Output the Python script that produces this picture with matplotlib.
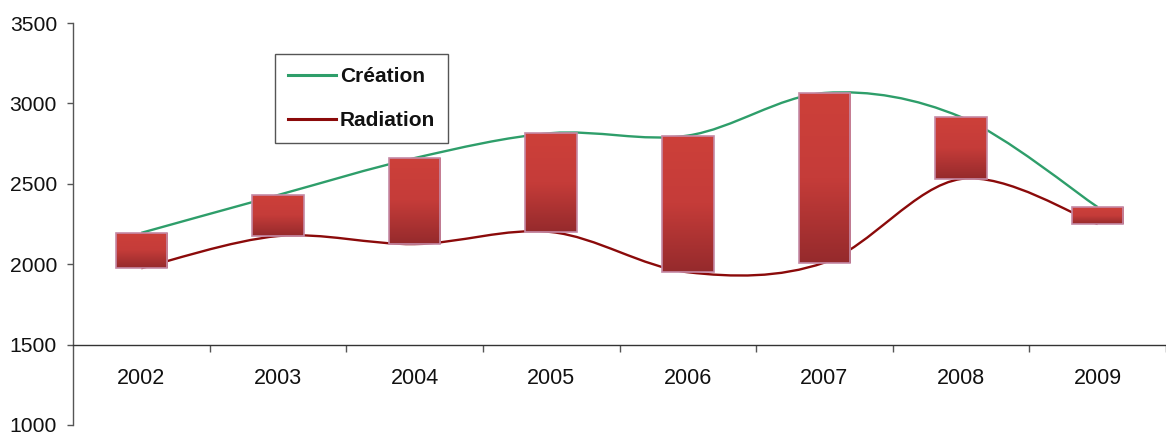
import numpy as np
import matplotlib
matplotlib.use("Agg")
import matplotlib.pyplot as plt
from matplotlib.path import Path
from matplotlib.patches import PathPatch, Rectangle
from matplotlib.lines import Line2D
from matplotlib.colors import LinearSegmentedColormap

years = ["2002", "2003", "2004", "2005", "2006", "2007", "2008", "2009"]
creation = [2195, 2430, 2660, 2815, 2800, 3065, 2915, 2355]
radiation = [1975, 2175, 2125, 2200, 1950, 2010, 2530, 2250]
series_names = ["Création", "Radiation"]

plt.rcParams['font.family'] = ['Liberation Sans', 'DejaVu Sans']

fig = plt.figure(figsize=(11.66, 4.32), dpi=100)
ax = fig.add_axes([73/1166, 7/432, (1166-73)/1166, (425-23)/432])

x = np.arange(len(years))


def smooth_path(xs, ys):
    pts = np.column_stack([xs, ys]).astype(float)
    n = len(pts)
    verts = [pts[0]]
    codes = [Path.MOVETO]
    for i in range(n - 1):
        p0 = pts[i - 1] if i > 0 else pts[i]
        p1 = pts[i]
        p2 = pts[i + 1]
        p3 = pts[i + 2] if i + 2 < n else pts[i + 1]
        c1 = p1 + (p2 - p0) / 6.0
        c2 = p2 - (p3 - p1) / 6.0
        verts += [c1, c2, p2]
        codes += [Path.CURVE4] * 3
    return Path(verts, codes)

green = "#2e9e6a"
dred = "#8b0a0a"
ax.add_patch(PathPatch(smooth_path(x, creation), facecolor="none", edgecolor=green, lw=1.7, zorder=2))
ax.add_patch(PathPatch(smooth_path(x, radiation), facecolor="none", edgecolor=dred, lw=1.7, zorder=2))

bw = 0.377
grad = np.linspace(0, 1, 256).reshape(-1, 1)
cmap = LinearSegmentedColormap.from_list("bar", ["#cd403a", "#c53c39", "#952a2c"])
for xi, c, r in zip(x, creation, radiation):
    lo, hi = min(c, r), max(c, r)
    im = ax.imshow(grad, cmap=cmap, aspect="auto", origin="upper",
                   extent=(xi - bw / 2, xi + bw / 2, lo, hi), zorder=3, interpolation="bilinear")
    rect = Rectangle((xi - bw / 2, lo), bw, hi - lo, facecolor="none",
                     edgecolor="#c58aa6", lw=1.2, zorder=4)
    ax.add_patch(rect)
    im.set_clip_path(rect)

ax.set_xlim(-0.5, -0.5 + (1166 - 73) / 138)
ax.set_ylim(1000, 3500)

for s in ["top", "right"]:
    ax.spines[s].set_visible(False)
ax.spines["bottom"].set_position(("data", 1500))
ax.spines["bottom"].set_color("#333333")
ax.spines["left"].set_color("#555555")
ax.spines["bottom"].set_linewidth(1.0)
ax.spines["left"].set_linewidth(1.0)

ax.set_yticks([1000, 1500, 2000, 2500, 3000, 3500])
ax.tick_params(axis="y", direction="out", length=4.5, width=1, color="#555555",
               labelsize=15.2, pad=7, labelcolor="#111111")
ax.set_xticks(x)
ax.set_xticklabels(years)
ax.set_xticks(np.arange(len(years)) + 0.5, minor=True)
ax.tick_params(axis="x", which="major", length=0, pad=17, labelsize=15.5, labelcolor="#111111")
ax.tick_params(axis="x", which="minor", direction="out", length=5, width=1, color="#555555")

handles = [Line2D([], [], color=green, lw=2.2), Line2D([], [], color=dred, lw=2.2)]
leg = ax.legend(handles, series_names, loc="upper left",
                bbox_to_anchor=((275 - 73) / 1093, (425 - 54) / 402),
                frameon=True, fancybox=False, edgecolor="#555555", framealpha=1,
                prop={"weight": "bold", "size": 15}, handlelength=2.3,
                handletextpad=0.2, labelspacing=1.2, borderpad=0.62, borderaxespad=0)
leg.get_frame().set_linewidth(1.0)
for t in leg.get_texts():
    t.set_color("#111111")

fig.savefig("out.png", dpi=100)
